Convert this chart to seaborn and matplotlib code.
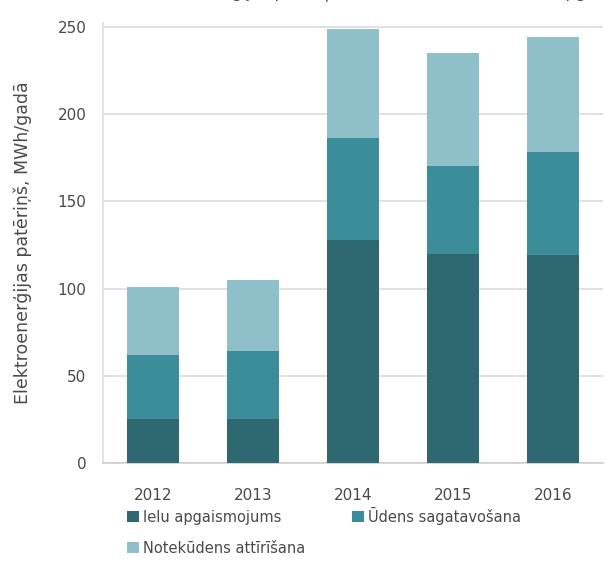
import numpy as np
import pandas as pd
import matplotlib
matplotlib.use('Agg')
import matplotlib.pyplot as plt
from matplotlib.patches import Patch
import seaborn as sns

years = ['2012', '2013', '2014', '2015', '2016']
ielu = [25, 25, 128, 120, 119]          # Ielu apgaismojums
udens = [37, 39, 58, 50, 59]            # Ūdens sagatavošana
noteku = [39, 41, 63, 65, 66]           # Notekūdens attīrīšana

series_names = ['Ielu apgaismojums', 'Ūdens sagatavošana', 'Notekūdens attīrīšana']
colors = ['#2e6870', '#3b8d9a', '#8fbfc9']

sns.set_theme(style='white')
plt.rcParams['font.family'] = ['DejaVu Sans']
txt = '#4a4a4a'

fig = plt.figure(figsize=(6.06, 5.63), dpi=100)
ax = fig.add_axes([0.170, 0.1776, 0.825, 0.781])

df = pd.DataFrame({'year': years, 'ielu': ielu, 'udens': udens, 'noteku': noteku})
bottom = np.zeros(len(years))
for col, c in zip(['ielu', 'udens', 'noteku'], colors):
    sns.barplot(data=df, x='year', y=col, bottom=bottom, color=c, linewidth=0,
                width=0.52, saturation=1, ax=ax, zorder=3)
    bottom = bottom + df[col].to_numpy()

ax.set_xlim(-0.5, 4.5)
ax.set_ylim(0, 252)
ax.set_yticks([0, 50, 100, 150, 200, 250])
ax.yaxis.grid(True, color='#dcdcdc', linewidth=1.2, zorder=0)
ax.set_axisbelow(True)
for s in ['top', 'right']:
    ax.spines[s].set_visible(False)
ax.spines['left'].set_color('#e0e0e0')
ax.spines['bottom'].set_color('#d0d0d0')
ax.tick_params(axis='both', colors=txt, labelsize=11, length=0)
ax.tick_params(axis='y', pad=12)
ax.tick_params(axis='x', pad=18)
ax.set_xlabel('')
ax.set_ylabel('Elektroenerģijas patēriņš, MWh/gadā', color=txt, fontsize=12.5, labelpad=18)

# matplotlib fills legend columns first, so reorder to get row-wise layout
order = [0, 2, 1]
handles = [Patch(facecolor=colors[i], edgecolor='none') for i in order]
labels = [series_names[i] for i in order]
fig.legend(handles, labels, loc='upper left', bbox_to_anchor=(0.2, 0.11),
           ncol=2, frameon=False, fontsize=10.5, labelcolor=txt, handlelength=0.8,
           handleheight=0.8, handletextpad=0.3, columnspacing=3.2, borderaxespad=0,
           labelspacing=1.1)

fig.text(0.23, 1.012, 'Elektroenerģijas patēriņš ūdenssaimniecībā un ielu apgaismojumā pa gadiem',
         color=txt, fontsize=11.5, va='center', ha='left')

fig.savefig('out.png', dpi=100)
